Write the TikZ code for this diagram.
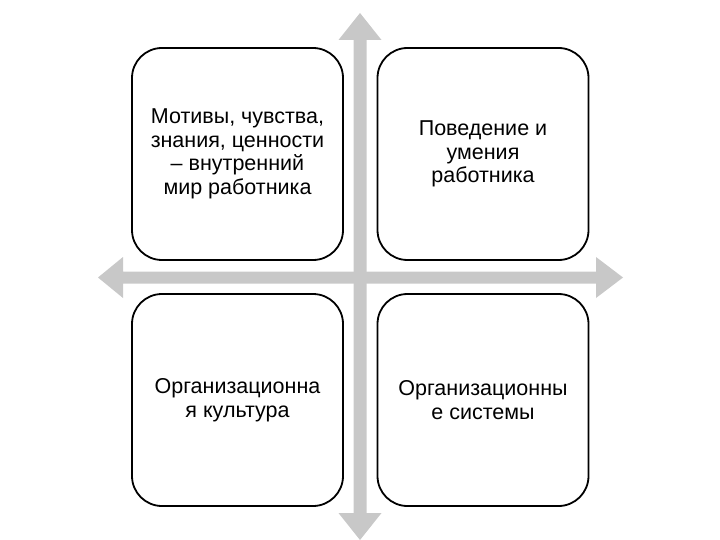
\documentclass[tikz,border=0pt]{standalone}
\usepackage{fontspec}
\setmainfont{Liberation Sans}
\definecolor{arrowgray}{RGB}{200,200,200}
\begin{document}
\begin{tikzpicture}[x=1pt,y=-1pt,
  quad/.style={draw=black, line width=1.8pt, fill=white, rounded corners=30pt,
    minimum width=211pt, minimum height=212pt, align=center, inner sep=0pt,
    font=\fontsize{21.5}{23.5}\selectfont},
  arr/.style={fill=arrowgray, draw=none}]
\useasboundingbox (0,0) rectangle (720,540);
% vertical double arrow
\fill[arr] (360,13) -- (381.5,40) -- (366.5,40) -- (366.5,513) -- (381.5,513) -- (360,540)
  -- (338.5,513) -- (353.5,513) -- (353.5,40) -- (338.5,40) -- cycle;
% horizontal double arrow
\fill[arr] (98,277.5) -- (123,257) -- (123,271.5) -- (596,271.5) -- (596,257) -- (623,277.5)
  -- (596,298) -- (596,283.5) -- (123,283.5) -- (123,298) -- cycle;
\node[quad] (tl) at (237.5,154) {Мотивы, чувства,\\знания, ценности\\– внутренний\\мир работника};
\node[quad] (tr) at (483,154) {Поведение и\\умения\\работника};
\node[quad] (bl) at (237.5,400) {Организационна\\я культура};
\node[quad] (br) at (483,400) {Организационны\\е системы};
\end{tikzpicture}
\end{document}
